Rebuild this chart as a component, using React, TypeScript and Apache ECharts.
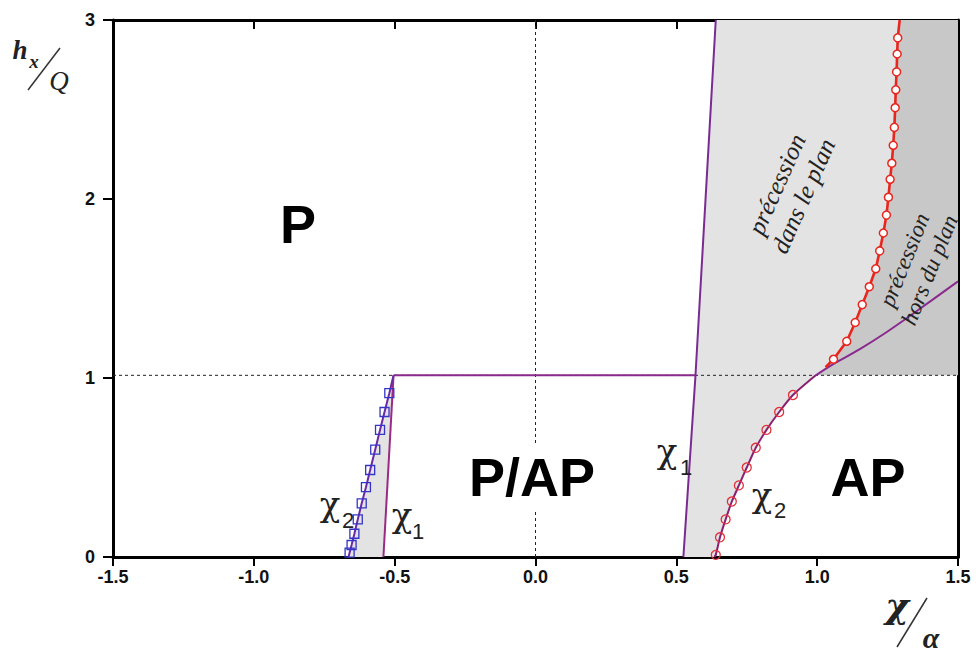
import React, { useEffect, useRef } from 'react';
import * as echarts from 'echarts';

const X_MIN = -1.5;
const X_MAX = 1.5;
const X_STEP = 0.5;
const Y_MIN = 0;
const Y_MAX = 3;
const Y_STEP = 1;
const PLATEAU = 1.015;

const xTickLabels = ['-1.5', '-1.0', '-0.5', '0.0', '0.5', '1.0', '1.5'];
const yTickLabels = ['0', '1', '2', '3'];

// left branch
const leftChi1 = [[-0.54, 0], [-0.504, 1.015]];
const plateauLine = [[-0.504, 1.015], [0.568, 1.015]];
const leftChi2 = [
  [-0.664, 0], [-0.66, 0.024], [-0.653, 0.067], [-0.643, 0.13], [-0.631, 0.21], [-0.617, 0.3],
  [-0.602, 0.39], [-0.587, 0.486], [-0.569, 0.6], [-0.552, 0.71], [-0.536, 0.81], [-0.519, 0.915],
  [-0.504, 1.015],
];

// right branch
const rightChi1 = [[0.525, 0], [0.568, 1.015], [0.64, 3]];
const rightChi2Lower = [
  [0.635, 0], [0.64, 0.012], [0.655, 0.11], [0.675, 0.21], [0.697, 0.31], [0.722, 0.4],
  [0.75, 0.5], [0.782, 0.61], [0.82, 0.71], [0.865, 0.81], [0.914, 0.905], [0.995, 1.015],
];
const rightChi2Upper = [[0.995, 1.015], [1.06, 1.08], [1.15, 1.16], [1.25, 1.26], [1.35, 1.37], [1.5, 1.54]];
const redCurve = [
  [1.03, 1.06], [1.058, 1.105], [1.105, 1.205], [1.135, 1.31], [1.16, 1.41], [1.185, 1.51],
  [1.208, 1.61], [1.222, 1.71], [1.235, 1.81], [1.246, 1.91], [1.253, 2.01], [1.259, 2.11],
  [1.265, 2.2], [1.27, 2.3], [1.274, 2.4], [1.277, 2.51], [1.279, 2.61], [1.282, 2.71],
  [1.284, 2.81], [1.286, 2.9], [1.293, 3],
];

const PURPLE = '#8a2a8e';
const LIGHT = '#e3e3e3';
const DARK = '#c8c8c8';

const marked = (pts: number[][]) =>
  pts.map((p, i) => (i === 0 || i === pts.length - 1 ? { value: p, symbol: 'none' } : { value: p }));

const polySeries = (pts: number[][], fill: string) => ({
  type: 'custom',
  silent: true,
  z: 1,
  data: [[0, 0]],
  renderItem: (_params: any, api: any) => ({
    type: 'polygon',
    shape: { points: pts.map((p) => api.coord(p)) },
    style: { fill, stroke: null },
  }),
});

const lineSeries = (data: any[], color: string, width: number, extra: any = {}) => ({
  type: 'line',
  data,
  z: 3,
  silent: true,
  symbol: 'none',
  showAllSymbol: true,
  lineStyle: { color, width },
  ...extra,
});

export default function App() {
  const ref = useRef<HTMLDivElement>(null);
  useEffect(() => {
    if (!ref.current) return;
    const chart = echarts.init(ref.current, undefined, { renderer: 'svg' });

    const lightLeft = [...leftChi2, ...leftChi1.slice().reverse()];
    const lightRight = [...rightChi1, ...redCurve.slice().reverse(), ...rightChi2Lower.slice().reverse()];
    const darkRight = [...redCurve, [X_MAX, Y_MAX], [X_MAX, PLATEAU], [rightChi2Upper[0][0], PLATEAU]];

    const txt = (text: string, x: number, y: number, font: any, extra: any = {}) => ({
      type: 'text',
      x,
      y,
      z: 100,
      silent: true,
      ...extra,
      style: {
        text,
        fill: '#111',
        align: 'center',
        verticalAlign: 'middle',
        ...font,
      },
    });
    const chiFont = { fontFamily: 'DejaVu Serif', fontSize: 34, fill: '#222' };
    const subFont = { fontFamily: 'Liberation Sans', fontSize: 22, fill: '#222' };
    const bigFont = { fontFamily: 'Liberation Sans', fontWeight: 'bold', fontSize: 54, fill: '#000' };
    const rotFont = { fontFamily: 'Liberation Serif', fontStyle: 'italic', fontSize: 25, lineHeight: 29, fill: '#222' };

    chart.setOption({
      animation: false,
      grid: { left: 113, right: 18, top: 20, bottom: 98, containLabel: false, outerBoundsMode: 'none' },
      xAxis: [
        {
          type: 'value', position: 'bottom', min: X_MIN, max: X_MAX, interval: X_STEP,
          axisLine: { show: true, onZero: false, lineStyle: { color: '#000', width: 3 } },
          axisTick: { show: true, inside: false, length: 9, lineStyle: { color: '#000', width: 2 } },
          axisLabel: {
            margin: 11, fontFamily: 'Liberation Sans', fontWeight: 'bold', fontSize: 18, color: '#111',
            formatter: (v: number) => xTickLabels[Math.round((v - X_MIN) / X_STEP)] ?? '',
          },
          splitLine: { show: false },
        },
        {
          type: 'value', position: 'top', min: X_MIN, max: X_MAX, interval: X_STEP,
          axisLine: { show: true, onZero: false, lineStyle: { color: '#000', width: 3 } },
          axisTick: { show: true, inside: true, length: 9, lineStyle: { color: '#000', width: 2 } },
          axisLabel: { show: false },
          splitLine: { show: false },
        },
      ],
      yAxis: [
        {
          type: 'value', position: 'left', min: Y_MIN, max: Y_MAX, interval: Y_STEP,
          axisLine: { show: true, onZero: false, lineStyle: { color: '#000', width: 3 } },
          axisTick: { show: true, inside: false, length: 10, lineStyle: { color: '#000', width: 2 } },
          axisLabel: {
            margin: 18, fontFamily: 'Liberation Sans', fontWeight: 'bold', fontSize: 18, color: '#111',
            formatter: (v: number) => yTickLabels[Math.round((v - Y_MIN) / Y_STEP)] ?? '',
          },
          splitLine: { show: false },
        },
        {
          type: 'value', position: 'right', min: Y_MIN, max: Y_MAX, interval: Y_STEP,
          axisLine: { show: true, onZero: false, lineStyle: { color: '#000', width: 3 } },
          axisTick: { show: false },
          axisLabel: { show: false },
          splitLine: { show: false },
        },
      ],
      series: [
        polySeries(lightLeft, LIGHT),
        polySeries(lightRight, LIGHT),
        polySeries(darkRight, DARK),
        lineSeries([[X_MIN, PLATEAU], [X_MAX, PLATEAU]], '#222', 1, { z: 2, lineStyle: { color: '#222', width: 1, type: [3, 3] } }),
        lineSeries([[0, Y_MIN], [0, Y_MAX]], '#222', 1, { z: 2, lineStyle: { color: '#222', width: 1, type: [3, 3] } }),
        lineSeries(leftChi1, '#9a2a84', 2),
        lineSeries(plateauLine, PURPLE, 2),
        lineSeries(marked(leftChi2), '#6a2aa6', 2, {
          symbol: 'rect', symbolSize: 9,
          itemStyle: { color: 'rgba(255,255,255,0)', borderColor: '#3434c8', borderWidth: 1.3 },
        }),
        lineSeries(rightChi1, '#7a2a92', 2),
        lineSeries(marked(rightChi2Lower), '#8a1f72', 2, {
          smooth: 0.2,
          symbol: 'circle', symbolSize: 9,
          itemStyle: { color: 'rgba(255,255,255,0)', borderColor: '#e0303a', borderWidth: 1.3 },
        }),
        lineSeries(rightChi2Upper, PURPLE, 2, { smooth: 0.3 }),
        lineSeries(marked(redCurve), '#e8261e', 2.6, {
          symbol: 'circle', symbolSize: 8,
          itemStyle: { color: '#ffffff', borderColor: '#e8261e', borderWidth: 1.5 },
        }),
      ],
      graphic: [
        txt('P', 298, 224, bigFont),
        txt('P/AP', 532, 477, { ...bigFont, backgroundColor: '#fff', padding: [6, 2] }),
        txt('AP', 868, 477, bigFont),
        // chi labels
        txt('χ', 667, 451, chiFont),
        txt('1', 686, 467, subFont),
        txt('χ', 762, 495, chiFont),
        txt('2', 780, 510, subFont),
        txt('χ', 330, 504, chiFont),
        txt('2', 348, 520, subFont),
        txt('χ', 402, 515, chiFont),
        txt('1', 418, 531, subFont),
        // rotated annotations
        txt('précession\ndans le plan', 790, 190, rotFont, { rotation: (66 * Math.PI) / 180 }),
        txt('précession\nhors du plan', 917, 265, { ...rotFont, fontSize: 23, lineHeight: 27 }, { rotation: (68 * Math.PI) / 180 }),
        // y axis title
        txt('h', 20, 50, { fontFamily: 'Liberation Serif', fontStyle: 'italic', fontWeight: 'bold', fontSize: 27, fill: '#222' }),
        txt('x', 34, 61, { fontFamily: 'Liberation Serif', fontStyle: 'italic', fontWeight: 'bold', fontSize: 19, fill: '#222' }),
        { type: 'line', z: 100, silent: true, shape: { x1: 60, y1: 48, x2: 28, y2: 90 }, style: { stroke: '#333', lineWidth: 1.5 } },
        txt('Q', 59, 81, { fontFamily: 'Liberation Serif', fontStyle: 'italic', fontSize: 27, fill: '#222' }),
        // x axis title
        txt('χ', 897, 605, { fontFamily: 'DejaVu Serif', fontStyle: 'italic', fontWeight: 'bold', fontSize: 36, fill: '#222' }),
        { type: 'line', z: 100, silent: true, shape: { x1: 927, y1: 598, x2: 897, y2: 647 }, style: { stroke: '#333', lineWidth: 1.5 } },
        txt('α', 931, 637, { fontFamily: 'Liberation Serif', fontStyle: 'italic', fontWeight: 'bold', fontSize: 30, fill: '#222' }),
      ],
    });
    return () => chart.dispose();
  }, []);
  return <div ref={ref} style={{ position: 'absolute', left: 0, top: 0, width: 976, height: 655 }} />;
}
